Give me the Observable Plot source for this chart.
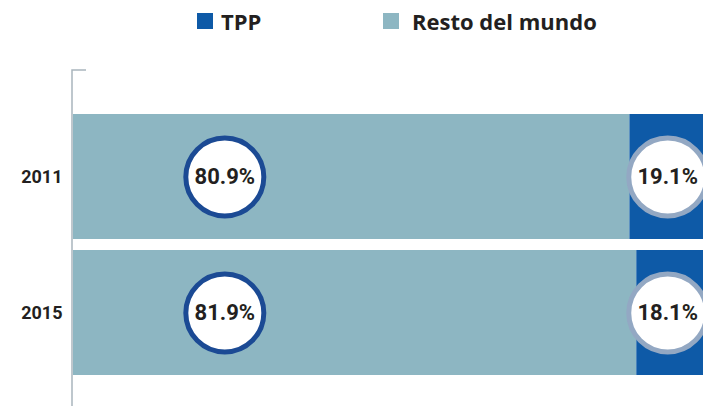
<!DOCTYPE html>
<html><head><meta charset="utf-8">
<script src="https://cdn.jsdelivr.net/npm/d3@7"></script>
<script src="https://cdn.jsdelivr.net/npm/@observablehq/plot@0.6"></script>
<style>
body{margin:0;background:#fff;font-family:Roboto,"Open Sans",sans-serif;overflow:hidden;}
#legend{position:relative;height:45px;width:703px;}
.key{position:absolute;top:6px;display:flex;align-items:center;font-family:"Open Sans",sans-serif;font-weight:700;font-size:22px;color:#231f20;line-height:30px;}
.sw{width:16px;height:16px;margin-right:8px;}
svg{display:block;}
</style></head><body>
<div id="legend"></div><div id="chart"></div>
<script>
const years = ["2011", "2015"];
const restShare = [80.9, 81.9];
const tppShare = [19.1, 18.1];
const series = ["TPP", "Resto del mundo"];
const colors = ["#0e5aa7", "#8db6c2"];
const restLabelAt = [22, 22];
const tppLabelAt = [86.4, 86.4];

const legendLeft = [197, 383];
const legend = document.getElementById("legend");
series.forEach((s, i) => {
  const k = document.createElement("div");
  k.className = "key";
  k.style.left = legendLeft[i] + "px";
  const sw = document.createElement("span");
  sw.className = "sw";
  sw.style.background = colors[i];
  if (i === 1) sw.style.marginRight = "13px";
  k.appendChild(sw);
  k.appendChild(document.createTextNode(s));
  legend.appendChild(k);
});

const rows = years.map((y, i) => ({year: y, rest: restShare[i], tpp: tppShare[i], restAt: restLabelAt[i], tppAt: tppLabelAt[i]}));

const chart = Plot.plot({
  width: 703, height: 361,
  marginLeft: 73, marginRight: 0, marginTop: 25, marginBottom: 0,
  style: {fontFamily: "Roboto, sans-serif"},
  x: {domain: [0, 91.6], axis: null},
  y: {domain: years, paddingInner: 0.081, paddingOuter: 0.272, align: 0.59, axis: null},
  marks: [
    Plot.barX(rows, {y: "year", x1: 0, x2: "rest", fill: colors[1], clip: true}),
    Plot.barX(rows, {y: "year", x1: "rest", x2: d => d.rest + d.tpp, fill: colors[0], clip: true}),
    (index, scales, values, dims) => {
      const g = d3.create("svg:g");
      g.append("path")
        .attr("d", `M${dims.marginLeft + 13},${dims.marginTop}H${dims.marginLeft - 1}V${dims.height}`)
        .attr("fill", "none").attr("stroke", "#a9b5bd").attr("stroke-width", 1.5);
      return g.node();
    },
    Plot.dot(rows, {x: "restAt", y: "year", r: 39, fill: "white", stroke: "#1b4a94", strokeWidth: 5}),
    Plot.dot(rows, {x: "tppAt", y: "year", r: 39, fill: "white", stroke: "#93a8c3", strokeWidth: 5}),
    Plot.text(rows, {x: "restAt", y: "year", text: d => d.rest.toFixed(1) + "%", fontSize: 22, fontWeight: 700, fill: "#231f20"}),
    Plot.text(rows, {x: "tppAt", y: "year", text: d => d.tpp.toFixed(1) + "%", fontSize: 22, fontWeight: 700, fill: "#231f20"}),
    Plot.text(rows, {y: "year", frameAnchor: "left", dx: -11, textAnchor: "end", text: "year", fontSize: 18, fontWeight: 700, fill: "#231f20"})
  ]
});
document.getElementById("chart").appendChild(chart);
</script>
</body></html>
